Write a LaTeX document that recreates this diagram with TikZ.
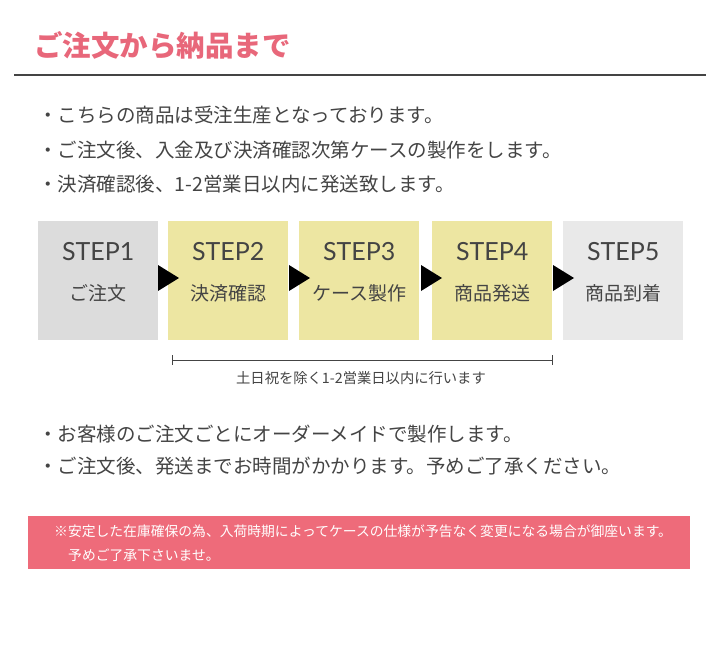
\documentclass[tikz,border=0pt]{standalone}
\usepackage{fontspec}
\setmainfont{Noto Sans CJK JP}
\newfontfamily\latof{Lato}
\definecolor{pinkc}{HTML}{E8677A}
\definecolor{boxpink}{HTML}{EE6B7A}
\definecolor{grayA}{HTML}{DCDCDC}
\definecolor{grayB}{HTML}{E9E9E9}
\definecolor{yel}{HTML}{EDE6A2}
\definecolor{txt}{HTML}{444444}
\tikzset{
 stepbox/.style={minimum width=120pt,minimum height=119pt,inner sep=0pt,anchor=north west},
 steptxt/.style={text=txt,font=\latof\fontsize{25}{25}\selectfont,anchor=center},
 subtxt/.style={text=txt,font=\fontsize{19}{19}\selectfont,anchor=center},
 bullet/.style={text=txt,font=\fontsize{19.5}{19.5}\selectfont,anchor=west,inner sep=0pt},
 tri/.style={fill=black,draw=none}
}
\begin{document}
\begin{tikzpicture}[x=1pt,y=1pt]
\useasboundingbox[fill=white] (0,0) rectangle (720,-664);
\node[anchor=west,text=pinkc,font=\bfseries\fontsize{28.5}{28.5}\selectfont,inner sep=0pt] (title) at (34,-45) {ご注文から納品まで};
\coordinate (l1) at (14,-75); \coordinate (l2) at (706,-75);
\draw[txt,line width=1.2pt] (l1) -- (l2);
\node[bullet] (b1) at (38,-115) {・こちらの商品は受注生産となっております。};
\node[bullet] (b2) at (38,-150) {・ご注文後、入金及び決済確認次第ケースの製作をします。};
\node[bullet] (b3) at (38,-184) {・決済確認後、1-2営業日以内に発送致します。};
\node[stepbox,fill=grayA] (s1) at (38,-221) {};
\node[stepbox,fill=yel] (s2) at (168,-221) {};
\node[stepbox,fill=yel] (s3) at (299,-221) {};
\node[stepbox,fill=yel] (s4) at (432,-221) {};
\node[stepbox,fill=grayB] (s5) at (563,-221) {};
\foreach \n/\a/\b in {s1/STEP1/ご注文,s2/STEP2/決済確認,s3/STEP3/ケース製作,s4/STEP4/商品発送,s5/STEP5/商品到着}{
 \node[steptxt] (\n t) at ([yshift=-31pt]\n.north) {\a};
 \node[subtxt] (\n s) at ([yshift=-72pt]\n.north) {\b};
}
\foreach \x in {158,289,421,553}{
 \fill[tri] (\x,-265) -- (\x+21,-278) -- (\x,-291) -- cycle;
}
\coordinate (ba) at (172,-360); \coordinate (bb) at (552,-360);
\draw[txt,line width=0.7pt] (ba) -- (bb);
\draw[txt,line width=0.7pt] ([yshift=5pt]ba) -- ([yshift=-5pt]ba);
\draw[txt,line width=0.7pt] ([yshift=5pt]bb) -- ([yshift=-5pt]bb);
\node[text=txt,font=\fontsize{14.3}{14.3}\selectfont] (bt) at (361,-378) {土日祝を除く1-2営業日以内に行います};
\node[bullet] (b4) at (38,-434) {・お客様のご注文ごとにオーダーメイドで製作します。};
\node[bullet] (b5) at (38,-466) {・ご注文後、発送までお時間がかかります。予めご了承ください。};
\node[fill=boxpink,minimum width=662pt,minimum height=53pt,anchor=north west,inner sep=0pt] (nb) at (28,-516) {};
\node[anchor=west,text=white,font=\fontsize{13.8}{13.8}\selectfont,inner sep=0pt] (n1) at (54,-531) {※安定した在庫確保の為、入荷時期によってケースの仕様が予告なく変更になる場合が御座います。};
\node[anchor=west,text=white,font=\fontsize{13.8}{13.8}\selectfont,inner sep=0pt] (n2) at (68,-555) {予めご了承下さいませ。};
\end{tikzpicture}
\end{document}
